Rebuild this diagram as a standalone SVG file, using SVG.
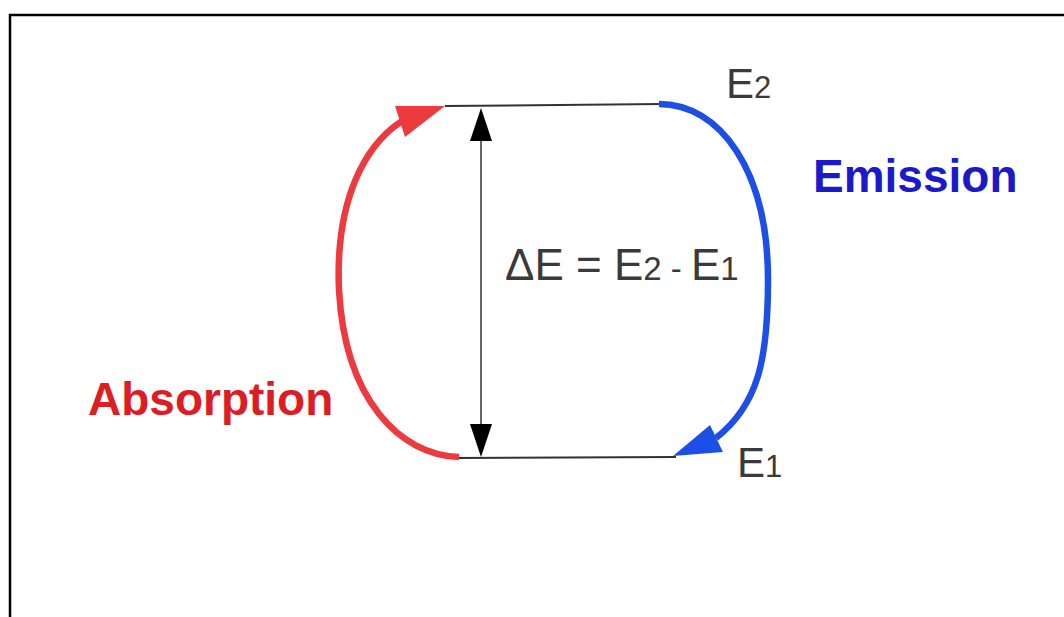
<svg xmlns="http://www.w3.org/2000/svg" width="1064" height="617" viewBox="0 0 1064 617">
<style>
.lvl{stroke:#333;stroke-width:2;fill:none}
.lbl{font-family:"Liberation Sans",Arial,sans-serif;fill:#3a3a3a}
.bold{font-family:"Liberation Sans",Arial,sans-serif;font-weight:bold;font-size:46px}
</style>
<rect width="1064" height="617" fill="#fff"/>
<path d="M10,617 V15 H1064" fill="none" stroke="#000" stroke-width="2.5"/>
<g id="connectors">
<line class="lvl" x1="445" y1="106" x2="662" y2="104"/>
<line class="lvl" x1="456" y1="458" x2="676" y2="457"/>
<line x1="481" y1="130" x2="481" y2="435" stroke="#333" stroke-width="1.5"/>
<polygon points="481,108 470,141 492,141" fill="#000"/>
<polygon points="481,457 470,424 492,424" fill="#000"/>
<g id="absorption-arrow">
<path d="M459,457 C400,455 345,400 339,290 C335,200 365,145 402,121" fill="none" stroke="#ec3a3f" stroke-width="6.5"/>
<polygon points="395,106 445,106 405,137" fill="#ec3a3f"/>
</g>
<g id="emission-arrow">
<path d="M659,104 C720,104 768,170 768,280 C768,360 758,405 716,438" fill="none" stroke="#1d4fe6" stroke-width="6.5"/>
<polygon points="673,456 710,425 723,452" fill="#1d4fe6"/>
</g>
</g>
<g id="E2"><text class="lbl" x="726" y="98" font-size="42">E<tspan font-size="31">2</tspan></text></g>
<g id="E1"><text class="lbl" x="737" y="477" font-size="42">E<tspan font-size="31">1</tspan></text></g>
<g id="deltaE"><text class="lbl" x="505" y="280" font-size="44" xml:space="preserve">ΔE = E<tspan font-size="33">2 - </tspan>E<tspan font-size="33">1</tspan></text></g>
<g id="absorption"><text class="bold" x="88" y="415" fill="#dd1c24">Absorption</text></g>
<g id="emission"><text class="bold" x="813" y="192" fill="#1a1acb">Emission</text></g>
</svg>
